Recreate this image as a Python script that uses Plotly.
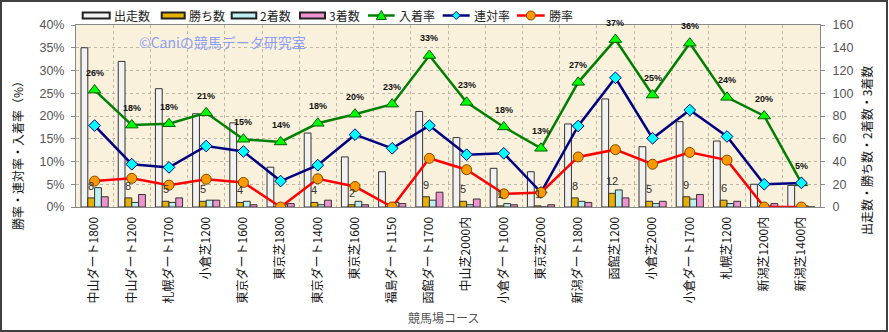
import plotly.graph_objects as go

# コース別成績
courses = [
    "中山ダート1800", "中山ダート1200", "札幌ダート1700", "小倉芝1200", "東京ダート1600",
    "東京芝1800", "東京ダート1400", "東京芝1600", "福島ダート1150", "函館ダート1700",
    "中山芝2000内", "小倉ダート1000", "東京芝2000", "新潟ダート1800", "函館芝1200",
    "小倉芝2000", "小倉ダート1700", "札幌芝1200", "新潟芝1200内", "新潟芝1400内",
]
runs = [140, 128, 104, 82, 74, 35, 65, 44, 31, 84, 61, 34, 31, 73, 95, 53, 75, 58, 20, 19]
wins = [8, 8, 5, 5, 4, 0, 4, 2, 0, 9, 5, 1, 1, 8, 12, 5, 9, 6, 0, 0]
seconds = [17, 4, 4, 6, 5, 2, 2, 5, 4, 6, 2, 3, 0, 5, 15, 3, 7, 3, 1, 1]
thirds = [9, 11, 8, 6, 2, 3, 6, 2, 3, 13, 7, 2, 2, 4, 8, 5, 11, 5, 3, 0]

# 率 (%)
place_rate = [25.7, 18.0, 18.3, 20.7, 14.9, 14.3, 18.4, 20.4, 22.6, 33.3,
              23.0, 17.6, 12.9, 27.4, 36.8, 24.6, 36.0, 24.1, 20.0, 5.3]
quinella_rate = [17.9, 9.4, 8.7, 13.4, 12.2, 5.7, 9.2, 15.9, 12.9, 17.9,
                 11.5, 11.8, 3.2, 17.8, 28.4, 15.1, 21.3, 15.5, 5.0, 5.3]
win_rate = [5.7, 6.3, 4.8, 6.1, 5.4, 0.0, 6.2, 4.5, 0.0, 10.7,
            8.2, 2.9, 3.2, 11.0, 12.6, 9.4, 12.0, 10.3, 0.0, 0.0]

JP = "Noto Sans CJK JP"
EDGE = "#333333"

# 図の寸法と余白 (px)
W, H = 889, 332
ML, MR, MT, MB = 76, 69, 25, 125
PW, PH = W - ML - MR, H - MT - MB


def px_x(x):
    return (x - ML) / PW


def px_y(y):
    return (H - MB - y) / PH


bar_series = [
    ("出走数", runs, "#F2F2F2"),
    ("勝ち数", wins, "#E8B000"),
    ("2着数", seconds, "#BDF1F1"),
    ("3着数", thirds, "#EE93CF"),
]
line_series = [
    ("入着率", place_rate, "#008000", "triangle-up", 11, "#00FF00", "#006000"),
    ("連対率", quinella_rate, "#000080", "diamond", 9, "#00FFFF", "#000080"),
    ("勝率", win_rate, "#FF0000", "circle", 10, "#FF9900", "#7A4A00"),
]

fig = go.Figure()
for name, vals, color in bar_series:
    fig.add_trace(go.Bar(
        x=courses, y=vals, name=name, yaxis="y",
        marker=dict(color=color, line=dict(color=EDGE, width=1)),
    ))
for name, vals, lc, sym, size, fc, mc in line_series:
    fig.add_trace(go.Scatter(
        x=courses, y=vals, name=name, yaxis="y2", mode="lines+markers",
        line=dict(color=lc, width=2.5),
        marker=dict(symbol=sym, size=size, color=fc, line=dict(color=mc, width=1)),
    ))

annotations = []
# 入着率の値ラベル
for c, v in zip(courses, place_rate):
    annotations.append(dict(
        x=c, y=v, xref="x", yref="y2", yshift=17, showarrow=False,
        text=f"<b>{v:.0f}%</b>",
        font=dict(family="Liberation Sans", size=9, color="#111111"),
    ))
# 勝ち数ラベル
for c, w in zip(courses, wins):
    if w > 0:
        annotations.append(dict(
            x=c, y=w, xref="x", yref="y", xshift=-3.4, yshift=12, showarrow=False,
            text=str(w), font=dict(family="Liberation Sans", size=11, color="#333333"),
        ))

# 軸タイトルと透かし
annotations += [
    dict(x=px_x(17), y=px_y(153), xref="paper", yref="paper", xanchor="center", yanchor="middle",
         showarrow=False, textangle=-90,
         text="勝率・連対率・入着率（%）", font=dict(family=JP, size=12, color="#111111")),
    dict(x=px_x(866), y=px_y(151), xref="paper", yref="paper", xanchor="center", yanchor="middle",
         showarrow=False, textangle=-90,
         text="出走数・勝ち数・2着数・3着数", font=dict(family=JP, size=12, color="#111111")),
    dict(x=px_x(443), y=px_y(317), xref="paper", yref="paper", xanchor="center", yanchor="middle",
         showarrow=False, text="競馬場コース", font=dict(family=JP, size=12, color="#555555")),
    dict(x=px_x(137), y=px_y(42), xref="paper", yref="paper", xanchor="left", yanchor="middle",
         showarrow=False, text="©Caniの競馬データ研究室",
         font=dict(family=JP, size=14, color="#8E9EF6")),
]

shapes = []
# 凡例 (アイコン左端, 文字左端)
LEG_Y = 15.5
legend_pos = [(82.7, 111.7), (161.7, 186.7), (231.7, 258.3), (300, 327),
              (368, 396.7), (442.7, 471.7), (517, 546.7)]
legend_items = [(s[0], "bar", s) for s in bar_series] + [(s[0], "line", s) for s in line_series]
for (ix, tx), (name, kind, spec) in zip(legend_pos, legend_items):
    x1 = tx - 2
    if kind == "bar":
        shapes.append(dict(type="rect", xref="paper", yref="paper",
                           x0=px_x(ix), x1=px_x(x1), y0=px_y(LEG_Y + 3), y1=px_y(LEG_Y - 3),
                           fillcolor=spec[2], line=dict(color="#222222", width=2)))
    else:
        _, _, lc, sym, size, fc, mc = spec
        shapes.append(dict(type="line", xref="paper", yref="paper",
                           x0=px_x(ix), x1=px_x(x1), y0=px_y(LEG_Y), y1=px_y(LEG_Y),
                           line=dict(color=lc, width=2.5)))
        cx = (ix + x1) / 2
        if sym == "triangle-up":
            pts = [(cx - 5, LEG_Y + 4), (cx + 5, LEG_Y + 4), (cx, LEG_Y - 5)]
        elif sym == "diamond":
            pts = [(cx - 4, LEG_Y), (cx, LEG_Y - 4), (cx + 4, LEG_Y), (cx, LEG_Y + 4)]
        else:
            pts = None
        if pts:
            path = "M" + " L".join(f"{px_x(a):.5f},{px_y(b):.5f}" for a, b in pts) + " Z"
            shapes.append(dict(type="path", xref="paper", yref="paper", path=path,
                               fillcolor=fc, line=dict(color=mc, width=1)))
        else:
            shapes.append(dict(type="circle", xref="paper", yref="paper",
                               x0=px_x(cx - 4.5), x1=px_x(cx + 4.5),
                               y0=px_y(LEG_Y + 4.5), y1=px_y(LEG_Y - 4.5),
                               fillcolor=fc, line=dict(color=mc, width=1)))
    annotations.append(dict(x=px_x(tx), y=px_y(LEG_Y), xref="paper", yref="paper",
                            xanchor="left", yanchor="middle", showarrow=False, text=name,
                            font=dict(family=JP, size=12, color="#222222")))

# 外枠
shapes.append(dict(type="rect", xref="paper", yref="paper",
                   x0=px_x(1), x1=px_x(887), y0=px_y(331), y1=px_y(1),
                   line=dict(color="#404040", width=2), fillcolor="rgba(0,0,0,0)", layer="below"))

fig.update_layout(
    width=W, height=H,
    margin=dict(l=ML, r=MR, t=MT, b=MB),
    paper_bgcolor="white",
    plot_bgcolor="#FAF1DC",
    barmode="group", bargap=0.27, bargroupgap=0,
    showlegend=False,
    xaxis=dict(
        type="category", range=[-0.5, len(courses) - 0.5], autorange=False,
        tickangle=-90, tickson="boundaries",
        showgrid=True, gridcolor="#BDB6A6", griddash="dot", gridwidth=1,
        showline=True, linecolor="#888888", mirror=True,
        ticks="", ticklabelstandoff=4,
        tickfont=dict(family=JP, size=12, color="#111111"),
    ),
    yaxis=dict(
        range=[0, 160], dtick=20, side="right",
        showgrid=True, gridcolor="#BDB6A6", griddash="dot", gridwidth=1,
        showline=True, linecolor="#888888", ticks="outside", ticklen=4, tickcolor="#888888",
        ticklabelstandoff=5,
        tickfont=dict(family="Liberation Sans", size=12.5, color="#555555"),
        zeroline=False,
    ),
    yaxis2=dict(
        range=[0, 40], dtick=5, ticksuffix="%", side="left", overlaying="y",
        showgrid=False, zeroline=False,
        showline=True, linecolor="#888888", ticks="outside", ticklen=4, tickcolor="#888888",
        ticklabelstandoff=4,
        tickfont=dict(family="Liberation Sans", size=12.5, color="#555555"),
    ),
    annotations=annotations,
    shapes=shapes,
)

fig.write_html("out.html")
